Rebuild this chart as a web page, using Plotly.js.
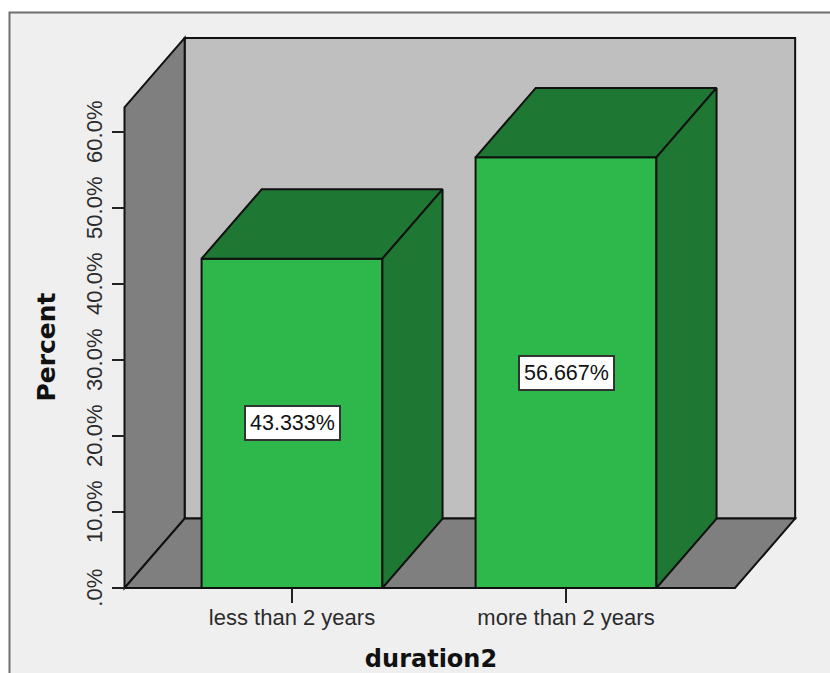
<!DOCTYPE html>
<html>
<head>
<meta charset="utf-8">
<script src="https://cdn.plot.ly/plotly-3.0.0.min.js"></script>
<style>html,body{margin:0;padding:0;background:#fff;overflow:hidden}</style>
</head>
<body>
<div id="chart" style="width:830px;height:673px"></div>
<script>
// Percent of cases by duration group
const categories = ['less than 2 years', 'more than 2 years'];
const percents = [43.333, 56.667];
const percentTicks = [0, 10, 20, 30, 40, 50, 60];
const percentTickLabels = ['.0%', '10.0%', '20.0%', '30.0%', '40.0%', '50.0%', '60.0%'];

// Extruded box look, in axis units
const depthX = 0.2195;
const depthY = 9.13;
const barWidth = 0.66;
const floorLeft = -0.6113;
const floorRight = 1.6168;
const wallTop = 63.25;

const colors = {
  panel: '#efefef', frame: '#6e6e6e', back: '#bfbfbf', wall: '#7f7f7f',
  front: '#2eb84c', shade: '#1e7733', edge: '#111111', text: '#2b2b2b'
};

// Plot frame in page pixels; the axes sit inside it so edge strokes are not cut off
const W = 830, H = 673;
const box = {l: 50, r: 812, t: 26, b: 668};
const pxX = 274, pxY = 7.6, zeroX = 292, zeroY = 588;
const xRange = [(box.l - zeroX) / pxX, (box.r - zeroX) / pxX];
const yRange = [(zeroY - box.b) / pxY, (zeroY - box.t) / pxY];
const yAxisPos = (124.5 - box.l) / (box.r - box.l);
const xAxisPos = (box.b - zeroY) / (box.b - box.t);

function poly(xs, ys, fill) {
  return {
    type: 'path', xref: 'x', yref: 'y', layer: 'below',
    path: xs.map((x, i) => (i ? 'L' : 'M') + x + ',' + ys[i]).join(' ') + ' Z',
    fillcolor: fill, line: {color: colors.edge, width: 2}
  };
}

function face(xs, ys) {
  return {
    type: 'scatter', mode: 'lines', x: xs.concat(xs[0]), y: ys.concat(ys[0]),
    fill: 'toself', fillcolor: colors.shade,
    line: {color: colors.edge, width: 2}, hoverinfo: 'skip', showlegend: false
  };
}

const shapes = [
  // Panel behind the chart, running off the page on the right and bottom
  {
    type: 'rect', xref: 'paper', yref: 'paper', layer: 'below',
    x0: (9.5 - box.l) / (box.r - box.l), x1: (W + 20 - box.l) / (box.r - box.l),
    y0: (box.b - H - 20) / (box.b - box.t), y1: (box.b - 12.5) / (box.b - box.t),
    fillcolor: colors.panel, line: {color: colors.frame, width: 2}
  },
  poly([floorLeft + depthX, floorRight + depthX, floorRight + depthX, floorLeft + depthX],
       [depthY, depthY, wallTop + depthY, wallTop + depthY], colors.back),
  poly([floorLeft, floorLeft + depthX, floorLeft + depthX, floorLeft],
       [0, depthY, wallTop + depthY, wallTop], colors.wall),
  poly([floorLeft, floorRight, floorRight + depthX, floorLeft + depthX],
       [0, 0, depthY, depthY], colors.wall)
];

const xPos = categories.map((_, i) => i);
const traces = [{
  type: 'bar', x: xPos, y: percents, width: barWidth,
  marker: {color: colors.front, line: {color: colors.edge, width: 2}},
  hoverinfo: 'skip', showlegend: false
}];

percents.forEach((v, i) => {
  const a = i - barWidth / 2, b = i + barWidth / 2;
  traces.push(face([a, b, b + depthX, a + depthX], [v, v, v + depthY, v + depthY]));
  traces.push(face([b, b + depthX, b + depthX, b], [0, depthY, v + depthY, v]));
});

const annotations = percents.map((v, i) => ({
  x: i, y: v / 2, xref: 'x', yref: 'y', showarrow: false,
  text: v.toFixed(3) + '%',
  font: {family: 'Liberation Sans', size: 21.5, color: '#111'},
  bgcolor: '#ffffff', bordercolor: '#333', borderwidth: 2, borderpad: 4
}));

const layout = {
  width: W, height: H, showlegend: false,
  paper_bgcolor: '#ffffff', plot_bgcolor: 'rgba(0,0,0,0)',
  margin: {l: box.l, r: W - box.r, t: box.t, b: H - box.b, pad: 0},
  xaxis: {
    range: xRange, anchor: 'free', position: xAxisPos, showgrid: false, zeroline: false, showline: false,
    tickmode: 'array', tickvals: xPos, ticktext: categories,
    ticks: 'outside', ticklen: 14, tickwidth: 2, tickcolor: '#222',
    ticklabelstandoff: -4,
    tickfont: {family: 'Liberation Sans', size: 22, color: colors.text},
    title: {text: 'duration2', standoff: 28, font: {family: 'DejaVu Sans', size: 24, color: '#111', weight: 700}}
  },
  yaxis: {
    range: yRange, anchor: 'free', position: yAxisPos, showgrid: false, zeroline: false, showline: false,
    tickmode: 'array', tickvals: percentTicks, ticktext: percentTickLabels, tickangle: -90,
    ticks: 'outside', ticklen: 13, tickwidth: 2, tickcolor: '#222',
    ticklabelstandoff: 1, ticklabelshift: 3,
    tickfont: {family: 'Liberation Sans', size: 22, color: colors.text},
    title: {text: 'Percent', standoff: 17, font: {family: 'DejaVu Sans', size: 25, color: '#111', weight: 700}}
  },
  shapes: shapes,
  annotations: annotations
};

Plotly.newPlot('chart', traces, layout, {displayModeBar: false, staticPlot: true});
</script>
</body>
</html>
